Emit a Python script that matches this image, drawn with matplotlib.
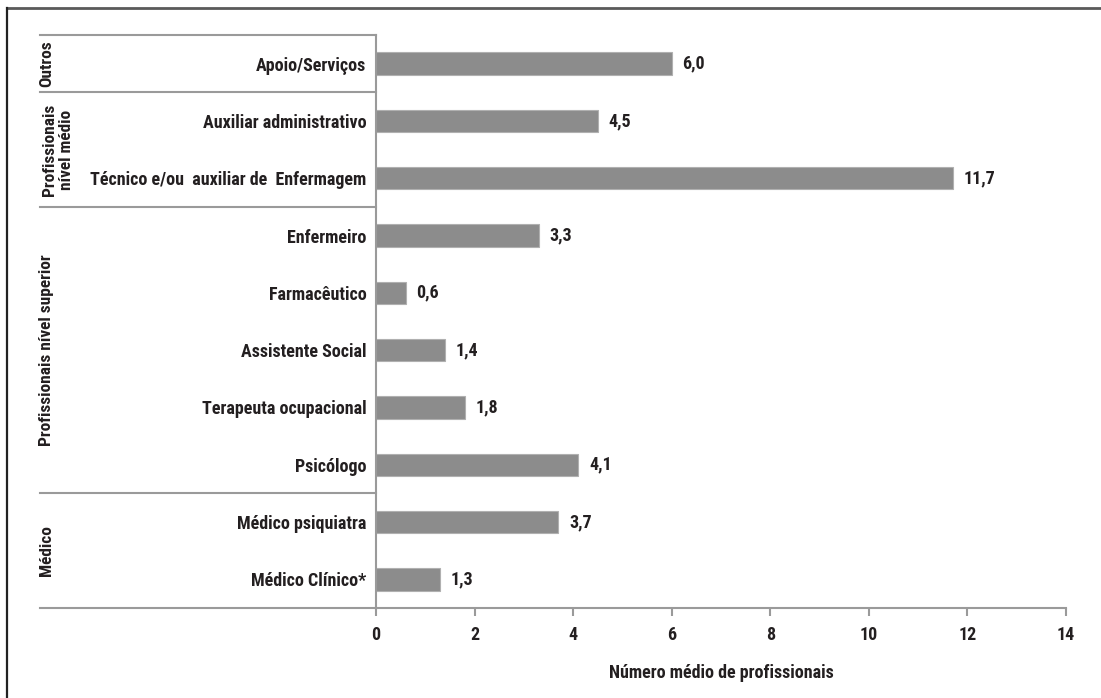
import matplotlib
matplotlib.use("Agg")
import matplotlib.pyplot as plt
import matplotlib.font_manager as fm
import matplotlib.transforms as mtransforms

# dados (de cima para baixo)
categorias = [
    "Apoio/Serviços",
    "Auxiliar administrativo",
    "Técnico e/ou  auxiliar de  Enfermagem",
    "Enfermeiro",
    "Farmacêutico",
    "Assistente Social",
    "Terapeuta ocupacional",
    "Psicólogo",
    "Médico psiquiatra",
    "Médico Clínico*",
]
valores = [6.0, 4.5, 11.7, 3.3, 0.6, 1.4, 1.8, 4.1, 3.7, 1.3]
grupos = ["Outros", "Profissionais\nnível médio", "Profissionais nível superior", "Médico"]
tamanho_grupos = [1, 2, 5, 2]
xticks = [0, 2, 4, 6, 8, 10, 12, 14]

# procura uma fonte condensada
fontes = fm.fontManager.ttflist
candidatas = [
    ("Roboto Condensed", None),
    ("Open Sans Condensed", None),
    ("Noto Sans", "condensed"),
    ("Open Sans", "condensed"),
    ("Roboto", "condensed"),
    ("Liberation Sans Narrow", None),
    ("DejaVu Sans", "condensed"),
]
familia, stretch = "DejaVu Sans", "normal"
for nome, st in candidatas:
    if any(f.name == nome and (st is None or f.stretch == st) for f in fontes):
        familia, stretch = nome, (st or "normal")
        break
plt.rcParams["font.family"] = [familia, "DejaVu Sans"]
plt.rcParams["font.stretch"] = stretch
plt.rcParams["font.weight"] = "bold"

TXT = "#231f20"
EIXO = "#9a9a9a"
fs = 13
fs_grupo = 12.5

fig = plt.figure(figsize=(11.01, 6.98), dpi=100)
ax = fig.add_axes([376 / 1101, 1 - 608 / 698, 690 / 1101, 573 / 698])

pos = list(range(len(categorias)))
ax.barh(pos, valores, height=0.39, color="#8c8c8c", edgecolor="#b0b0b0", linewidth=0.8)

for y, v in zip(pos, valores):
    ax.text(v + 0.22, y, f"{v:.1f}".replace(".", ","), va="center", ha="left",
            fontsize=fs, color=TXT, fontweight="bold")

ax.set_xlim(0, 14)
ax.set_ylim(len(categorias) - 0.5, -0.5)
ax.set_xticks(xticks)
ax.set_xticklabels([str(t) for t in xticks], fontsize=fs, color=TXT, fontweight="bold")
ax.set_yticks(pos)
ax.set_yticklabels(categorias, fontsize=fs, color=TXT, fontweight="bold")
ax.tick_params(axis="y", length=0, pad=7)
ax.tick_params(axis="x", length=6, width=1.5, color=EIXO, pad=7)
ax.set_xlabel("Número médio de profissionais", fontsize=fs, color=TXT,
              fontweight="bold", labelpad=14)

for s in ["top", "right"]:
    ax.spines[s].set_visible(False)
for s in ["left", "bottom"]:
    ax.spines[s].set_color(EIXO)
    ax.spines[s].set_linewidth(1.5)

# linhas de grupos e rótulos
trans = mtransforms.blended_transform_factory(fig.transFigure, ax.transData)
limites = [-0.5]
for n in tamanho_grupos:
    limites.append(limites[-1] + n)
for yb in limites:
    ax.plot([40 / 1101, 376 / 1101], [yb, yb], transform=trans, color=EIXO,
            linewidth=1.5, clip_on=False)
for g, a, b in zip(grupos, limites[:-1], limites[1:]):
    xg = 58 / 1101 if "\n" in g else 47 / 1101
    fig.text(xg, (a + b) / 2, g, transform=trans, rotation=90, ha="center", va="center",
             fontsize=fs_grupo, color=TXT, fontweight="bold", multialignment="center",
             linespacing=1.15)

# moldura externa (topo e esquerda)
fig.add_artist(plt.Line2D([7 / 1101, 1], [1 - 8 / 698, 1 - 8 / 698], transform=fig.transFigure,
                          color="#5a5a5a", linewidth=2))
fig.add_artist(plt.Line2D([7 / 1101, 7 / 1101], [0, 1 - 8 / 698], transform=fig.transFigure,
                          color="#222222", linewidth=1.6))

fig.savefig("out.png", dpi=100)
